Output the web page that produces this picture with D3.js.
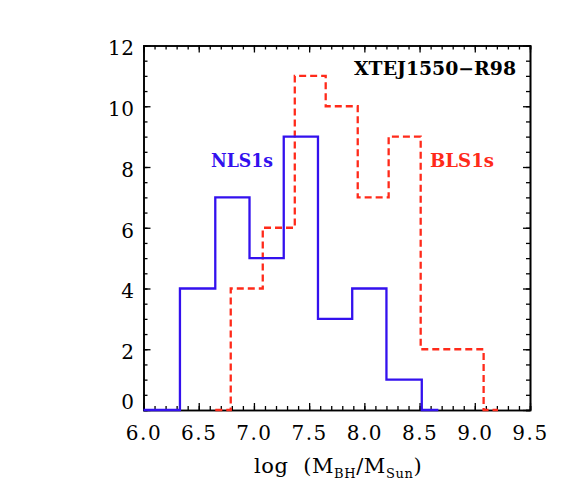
<!DOCTYPE html>
<html>
<head>
<meta charset="utf-8">
<title>histogram</title>
<style>
    body { margin: 0; background: #fff; }
    svg { display: block; }
    .axis path.domain { stroke: #000; stroke-width: 1.6; }
    .axis line { stroke: #000; stroke-width: 1.3; }
    .axis text { font-family: "DejaVu Serif", serif; font-size: 20px; fill: #000; }
    path.hist { fill: none; stroke-width: 2.3; }
</style>
</head>
<body>
<svg id="chart" width="573" height="501"></svg>
<script src="https://d3js.org/d3.v7.min.js"></script>
<script>
// bin edges and counts
const nlsEdges = [6.0, 6.33, 6.65, 6.96, 7.27, 7.58, 7.89, 8.20, 8.52, 8.67];
const nlsCounts = [0, 4, 7, 5, 9, 3, 4, 1, 0];
const blsEdges = [6.65, 6.79, 7.08, 7.37, 7.65, 7.94, 8.22, 8.51, 8.79, 9.08, 9.21];
const blsCounts = [0, 4, 6, 11, 10, 7, 9, 2, 2, 0];
const xTicks = [6.0, 6.5, 7.0, 7.5, 8.0, 8.5, 9.0, 9.5];
const yTicks = [0, 2, 4, 6, 8, 10, 12];

let svg = d3.select('#chart');
let m = { left: 143.5, right: 530, top: 45.5, bottom: 410 };

let x = d3.scaleLinear().domain([6.0, 9.5]).range([m.left, m.right]);
let y = d3.scaleLinear().domain([0, 12]).range([m.bottom, m.top]);

let xMinor = d3.range(60, 96).map(v => v / 10);
let yMinor = d3.range(0, 25).map(v => v / 2);

// minor ticks first, all pointing inward
svg.append('g').attr('class', 'axis').attr('transform', `translate(0,${m.bottom})`)
    .call(d3.axisBottom(x).tickValues(xMinor).tickSize(-4).tickFormat(''));
svg.append('g').attr('class', 'axis').attr('transform', `translate(0,${m.top})`)
    .call(d3.axisTop(x).tickValues(xMinor).tickSize(-4).tickFormat(''));
svg.append('g').attr('class', 'axis').attr('transform', `translate(${m.left},0)`)
    .call(d3.axisLeft(y).tickValues(yMinor).tickSize(-4).tickFormat(''));
svg.append('g').attr('class', 'axis').attr('transform', `translate(${m.right},0)`)
    .call(d3.axisRight(y).tickValues(yMinor).tickSize(-4).tickFormat(''));

// major ticks + labels
svg.append('g').attr('class', 'axis').attr('transform', `translate(0,${m.bottom})`)
    .call(d3.axisBottom(x).tickValues(xTicks).tickSize(-7).tickSizeOuter(0)
        .tickPadding(16).tickFormat(d3.format('.1f')))
    .selectAll('text').attr('letter-spacing', '1.5px');
svg.append('g').attr('class', 'axis').attr('transform', `translate(0,${m.top})`)
    .call(d3.axisTop(x).tickValues(xTicks).tickSize(-7).tickSizeOuter(0).tickFormat(''));
svg.append('g').attr('class', 'axis').attr('transform', `translate(${m.left},0)`)
    .call(d3.axisLeft(y).tickValues(yTicks).tickSize(-7).tickSizeOuter(0).tickPadding(9))
    .selectAll('text')
    .attr('letter-spacing', '0.5px')
    .attr('y', d => d === 0 ? -8 : 3);   // idl nudges the bottom label up
svg.append('g').attr('class', 'axis').attr('transform', `translate(${m.right},0)`)
    .call(d3.axisRight(y).tickValues(yTicks).tickSize(-7).tickSizeOuter(0).tickFormat(''));

let step = d3.line()
    .curve(d3.curveStepAfter)
    .x(d => x(d[0]))
    .y(d => y(d[1]));

function stepPoints(edges, counts) {
    let pts = counts.map((c, i) => [edges[i], c]);
    pts.push([edges[edges.length - 1], counts[counts.length - 1]]);
    return pts;
}

svg.append('path')
    .classed('hist', true)
    .attr('stroke', '#ff2a1a')
    .attr('stroke-dasharray', '7,4')
    .attr('d', step(stepPoints(blsEdges, blsCounts)));

svg.append('path')
    .classed('hist', true)
    .attr('stroke', '#3311ee')
    .attr('d', step(stepPoints(nlsEdges, nlsCounts)));

// labels
svg.append('text')
    .attr('x', 516).attr('y', 75)
    .attr('text-anchor', 'end')
    .attr('font-family', 'DejaVu Serif').attr('font-weight', 'bold').attr('font-size', 18)
    .attr('textLength', 162).attr('lengthAdjust', 'spacingAndGlyphs')
    .text('XTEJ1550\u2212R98');

svg.append('text')
    .attr('x', 211).attr('y', 167)
    .attr('font-family', 'DejaVu Serif').attr('font-weight', 'bold').attr('font-size', 19)
    .attr('fill', '#3311ee')
    .attr('textLength', 62).attr('lengthAdjust', 'spacingAndGlyphs')
    .text('NLS1s');

svg.append('text')
    .attr('x', 430).attr('y', 167)
    .attr('font-family', 'DejaVu Serif').attr('font-weight', 'bold').attr('font-size', 19)
    .attr('fill', '#ff2a1a')
    .attr('textLength', 64).attr('lengthAdjust', 'spacingAndGlyphs')
    .text('BLS1s');

// x title with subscripts
let title = svg.append('text')
    .attr('x', 254).attr('y', 473)
    .style('white-space', 'pre')
    .attr('font-family', 'DejaVu Serif').attr('font-size', 21)
    .attr('letter-spacing', '0.6px');
title.append('tspan').text('log  (M');
title.append('tspan').attr('font-size', 13).attr('dy', 5).text('BH');
title.append('tspan').attr('dy', -5).text('/M');
title.append('tspan').attr('font-size', 13).attr('dy', 5).text('Sun');
title.append('tspan').attr('dy', -5).text(')');
</script>
</body>
</html>
